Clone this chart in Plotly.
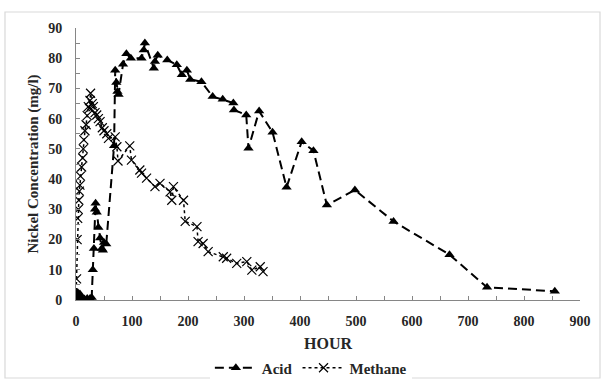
import plotly.graph_objects as go

# Acid-phase reactor: nickel concentration over time
acid_hours = [0, 3, 5, 7, 10, 15, 20, 25, 28, 30, 32, 34, 35, 37, 40, 43, 46, 48, 50, 54,
              68, 70, 72, 74, 76, 84, 90, 98, 117, 121, 123, 139, 141, 146, 163, 180, 189,
              198, 204, 224, 244, 262, 281, 282, 304, 308, 327, 351, 376, 403, 424, 448,
              498, 567, 667, 734, 855]
acid_nickel = [0.5, 2.5, 1.0, 2.0, 0.5, 0.3, 0.5, 0.5, 0.8, 10.0, 17.0, 30.0, 32.0, 29.0,
               24.0, 20.5, 17.0, 16.5, 19.0, 18.5, 51.0, 76.0, 72.0, 69.0, 68.0, 78.0, 81.5,
               80.0, 80.0, 82.7, 85.0, 76.7, 78.9, 81.0, 79.4, 77.8, 74.5, 76.0, 73.0, 72.2,
               67.3, 66.4, 65.2, 62.9, 61.2, 50.2, 62.5, 55.5, 37.3, 52.4, 49.4, 31.4, 36.4,
               26.0, 15.0, 4.2, 2.9]

# Methane-phase reactor: nickel concentration over time
methane_hours = [0, 1, 2, 3, 4, 5, 6, 7, 8, 10, 12, 13, 14, 16, 18, 20, 22, 24, 25, 26,
                 29, 31, 34, 37, 40, 43, 47, 50, 55, 58, 70, 73, 75, 96, 99, 114, 117, 126,
                 141, 150, 168, 171, 174, 192, 195, 216, 218, 227, 236, 263, 269, 287, 305,
                 314, 329, 334]
methane_nickel = [1.0, 7.0, 20.0, 27.0, 30.0, 33.0, 36.0, 38.0, 41.0, 44.0, 47.0, 50.0,
                  53.0, 56.0, 58.0, 61.0, 64.0, 63.4, 66.0, 68.4, 65.0, 64.0, 62.0, 61.2,
                  60.0, 59.0, 57.0, 56.0, 55.0, 53.5, 54.0, 50.7, 46.0, 51.0, 46.3, 43.0,
                  42.0, 40.3, 37.5, 38.6, 35.8, 33.0, 37.5, 33.0, 26.0, 24.3, 19.3, 18.7,
                  16.0, 14.3, 13.8, 12.1, 12.7, 9.9, 11.0, 9.4]

x_ticks = [0, 100, 200, 300, 400, 500, 600, 700, 800, 900]
y_ticks = [0, 10, 20, 30, 40, 50, 60, 70, 80, 90]

serif = "Liberation Serif, Times New Roman, serif"
text_col = "#262626"
axis_grey = "#868686"


def bold(size):
    return dict(family=serif, size=size, color=text_col, weight="bold")


fig = go.Figure()

fig.add_trace(go.Scatter(
    x=acid_hours, y=acid_nickel, name="Acid", mode="lines+markers",
    line=dict(color="black", width=2, dash="9px,5px"),
    marker=dict(symbol="triangle-up", size=9, color="black"),
))

fig.add_trace(go.Scatter(
    x=methane_hours, y=methane_nickel, name="Methane", mode="lines+markers",
    line=dict(color="black", width=1.5, dash="dot"),
    marker=dict(symbol="x-thin-open", size=9,
                line=dict(color="#7f7f7f", width=1.2)),
))

axis_common = dict(
    showgrid=False, zeroline=False, showline=True, linecolor=axis_grey, linewidth=1,
    ticks="inside", ticklen=4, tickcolor=axis_grey, tickwidth=1,
    tickfont=bold(14), automargin=False,
)

fig.update_xaxes(
    **axis_common, range=[0, 900], tickmode="array", tickvals=x_ticks,
    ticktext=[str(v) for v in x_ticks], ticklabelstandoff=8,
    minor=dict(dtick=50, ticks="inside", ticklen=4, tickcolor=axis_grey),
    title=dict(text="HOUR", font=bold(16), standoff=10),
)
fig.update_yaxes(
    **axis_common, range=[0, 90], tickmode="array", tickvals=y_ticks,
    ticktext=[str(v) for v in y_ticks], ticklabelstandoff=10,
    minor=dict(dtick=5, ticks="inside", ticklen=4, tickcolor=axis_grey),
    title=dict(text="Nickel Concentration (mg/l)", font=bold(15), standoff=5),
)

# light chart-area border
fig.add_shape(type="rect", xref="paper", yref="paper",
              x0=-0.1409, x1=1.0397, y0=-0.2868, y1=1.0588,
              line=dict(color="#d9d9d9", width=1.2), fillcolor="rgba(0,0,0,0)")

fig.update_layout(
    width=603, height=381,
    margin=dict(l=76, r=23, t=28, b=81, autoexpand=False),
    paper_bgcolor="white", plot_bgcolor="white",
    showlegend=True,
    legend=dict(orientation="h", x=0.466, xanchor="center", y=-0.25, yanchor="middle",
                font=bold(15), tracegroupgap=0, itemwidth=42),
)

fig.write_html("out.html")
